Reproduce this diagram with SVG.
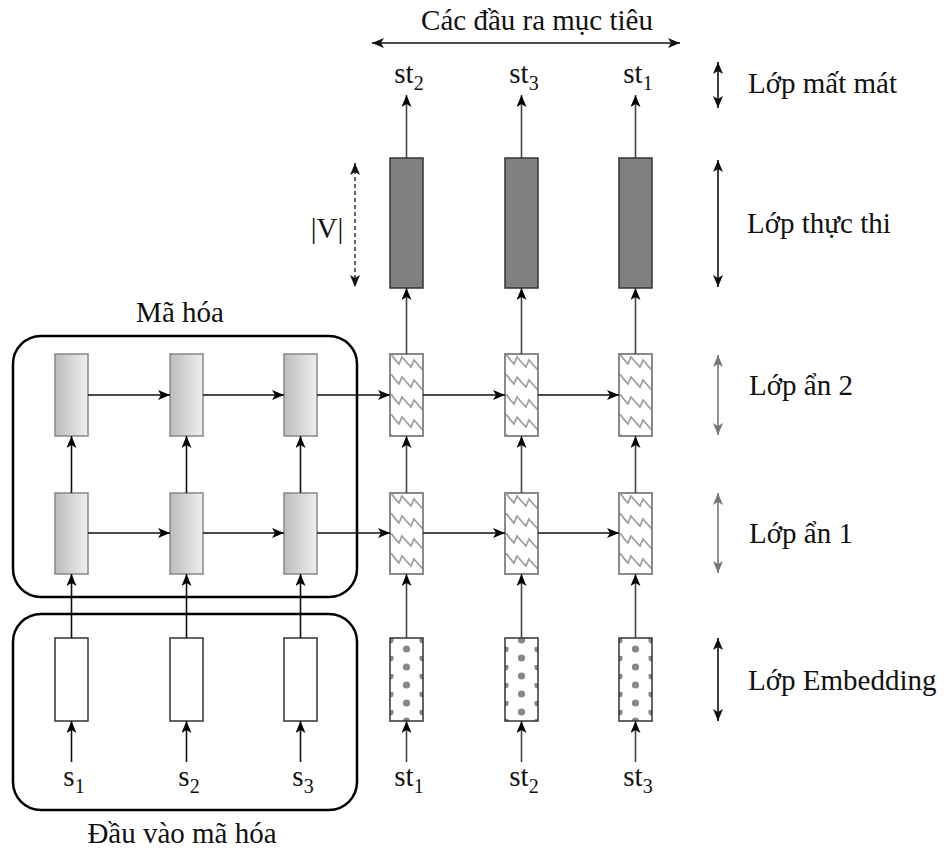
<svg xmlns="http://www.w3.org/2000/svg" width="948" height="852" viewBox="0 0 948 852">
<style>
.t{font-size:29px;fill:#111}
.sub{font-size:20px}
.grp{fill:none;stroke:#000;stroke-width:2.5}
.enc{fill:url(#grad);stroke:#888;stroke-width:1.5}
.emb{fill:#fff;stroke:#333;stroke-width:1.5}
.dark{fill:#808080;stroke:#333;stroke-width:1.5}
.zz{fill:url(#zig);stroke:#8a8a8a;stroke-width:2}
.dot{fill:url(#dots);stroke:#333;stroke-width:1.5}
.c{fill:none;stroke:#111;stroke-width:1.6;marker-end:url(#ah)}
.cg{fill:none;stroke:#444;stroke-width:1.6;marker-end:url(#ah)}
.d{fill:none;stroke:#111;stroke-width:1.6;marker-start:url(#sa);marker-end:url(#sa)}
.dg{fill:none;stroke:#777;stroke-width:1.6;marker-start:url(#sg);marker-end:url(#sg)}
</style>
<defs>
<linearGradient id="grad" x1="0" y1="0" x2="1" y2="0">
<stop offset="0" stop-color="#bcbcbc"/>
<stop offset="1" stop-color="#efefef"/>
</linearGradient>
<pattern id="zig" patternUnits="userSpaceOnUse" width="33" height="20">
<path d="M1,0 Q5,6 9,10 L12,3 Q17,9 21,13 L24,6 Q29,12 33,16" fill="none" stroke="#a0a0a0" stroke-width="1.8"/>
</pattern>
<pattern id="dots" patternUnits="userSpaceOnUse" width="33" height="18">
<rect width="33" height="18" fill="#fff"/>
<circle cx="16.5" cy="11" r="3.6" fill="#888"/>
<circle cx="0" cy="2" r="3.6" fill="#888"/>
<circle cx="33" cy="2" r="3.6" fill="#888"/>
</pattern>
<marker id="ah" markerUnits="userSpaceOnUse" viewBox="0 0 12 10" refX="12" refY="5" markerWidth="12" markerHeight="10" orient="auto">
<path d="M0,0 L12,5 L0,10 L3,5 z" fill="#000"/>
</marker>
<marker id="sa" markerUnits="userSpaceOnUse" viewBox="0 0 12 10" refX="12" refY="5" markerWidth="12" markerHeight="10" orient="auto-start-reverse">
<path d="M0,0 L12,5 L0,10 L3,5 z" fill="#111"/>
</marker>
<marker id="sg" markerUnits="userSpaceOnUse" viewBox="0 0 12 10" refX="12" refY="5" markerWidth="12" markerHeight="10" orient="auto-start-reverse">
<path d="M0,0 L12,5 L0,10 L3,5 z" fill="#777"/>
</marker>
</defs>
<rect width="948" height="852" fill="#fff"/>

<g font-family="'Liberation Serif', 'Times New Roman', 'DejaVu Serif', serif">
<g id="encoder-group">
<rect class="grp" x="13" y="336" width="344" height="261" rx="28"/>
<text class="t" x="180" y="322" text-anchor="middle">Mã hóa</text>
</g>
<g id="encoder-input-group">
<rect class="grp" x="13" y="614" width="344" height="196" rx="28"/>
<text class="t" x="182" y="843" text-anchor="middle">Đầu vào mã hóa</text>
</g>

<g id="enc-h2-1"><rect class="enc" x="55" y="354" width="33" height="82"/></g>
<g id="enc-h2-2"><rect class="enc" x="170" y="354" width="33" height="82"/></g>
<g id="enc-h2-3"><rect class="enc" x="284" y="354" width="33" height="82"/></g>
<g id="enc-h1-1"><rect class="enc" x="55" y="493" width="33" height="81"/></g>
<g id="enc-h1-2"><rect class="enc" x="170" y="493" width="33" height="81"/></g>
<g id="enc-h1-3"><rect class="enc" x="284" y="493" width="33" height="81"/></g>
<g id="enc-emb-1"><rect class="emb" x="55" y="638" width="33" height="83"/></g>
<g id="enc-emb-2"><rect class="emb" x="170" y="638" width="33" height="83"/></g>
<g id="enc-emb-3"><rect class="emb" x="284" y="638" width="33" height="83"/></g>

<g id="dec-out-1"><rect class="dark" x="390" y="158" width="33" height="130"/></g>
<g id="dec-out-2"><rect class="dark" x="505" y="158" width="33" height="130"/></g>
<g id="dec-out-3"><rect class="dark" x="619" y="158" width="33" height="130"/></g>
<g id="dec-h2-1" transform="translate(390,354)"><rect class="zz" width="33" height="82"/></g>
<g id="dec-h2-2" transform="translate(505,354)"><rect class="zz" width="33" height="82"/></g>
<g id="dec-h2-3" transform="translate(619,354)"><rect class="zz" width="33" height="82"/></g>
<g id="dec-h1-1" transform="translate(390,493)"><rect class="zz" width="33" height="81"/></g>
<g id="dec-h1-2" transform="translate(505,493)"><rect class="zz" width="33" height="81"/></g>
<g id="dec-h1-3" transform="translate(619,493)"><rect class="zz" width="33" height="81"/></g>
<g id="dec-emb-1" transform="translate(390,638)"><rect class="dot" width="33" height="83"/></g>
<g id="dec-emb-2" transform="translate(505,629)"><rect class="dot" y="9" width="33" height="83"/></g>
<g id="dec-emb-3" transform="translate(619,638)"><rect class="dot" width="33" height="83"/></g>

<g id="labels">
<text class="t" x="537" y="30" text-anchor="middle">Các đầu ra mục tiêu</text>
<text class="t" x="409" y="83" text-anchor="middle">st<tspan class="sub" dy="7">2</tspan></text>
<text class="t" x="524" y="83" text-anchor="middle">st<tspan class="sub" dy="7">3</tspan></text>
<text class="t" x="638" y="83" text-anchor="middle">st<tspan class="sub" dy="7">1</tspan></text>
<text class="t" x="327" y="238" text-anchor="middle">|V|</text>
<text class="t" x="74" y="786" text-anchor="middle">s<tspan class="sub" dy="7">1</tspan></text>
<text class="t" x="189" y="786" text-anchor="middle">s<tspan class="sub" dy="7">2</tspan></text>
<text class="t" x="303" y="786" text-anchor="middle">s<tspan class="sub" dy="7">3</tspan></text>
<text class="t" x="409" y="786" text-anchor="middle">st<tspan class="sub" dy="7">1</tspan></text>
<text class="t" x="524" y="786" text-anchor="middle">st<tspan class="sub" dy="7">2</tspan></text>
<text class="t" x="638" y="786" text-anchor="middle">st<tspan class="sub" dy="7">3</tspan></text>
<text class="t" x="748" y="93">Lớp mất mát</text>
<text class="t" x="747" y="233">Lớp thực thi</text>
<text class="t" x="749" y="395">Lớp ẩn 2</text>
<text class="t" x="749" y="543">Lớp ẩn 1</text>
<text class="t" x="748" y="690">Lớp Embedding</text>
</g>
</g>

<g id="connectors">
<path class="d" d="M372,43 H680"/>
<path class="d" d="M718,62 V108"/>
<path class="d" d="M718,160 V287"/>
<path class="dg" d="M718,355 V435"/>
<path class="dg" d="M718,493 V573"/>
<path class="d" d="M718,638 V721"/>
<path fill="none" stroke="#666" stroke-width="2" stroke-dasharray="4,3" marker-start="url(#sa)" marker-end="url(#sa)" d="M355,163 V287"/>

<path class="cg" d="M406.5,158 V95"/>
<path class="cg" d="M521.5,158 V95"/>
<path class="cg" d="M635.5,158 V95"/>
<path class="cg" d="M406.5,354 V288"/>
<path class="cg" d="M521.5,354 V288"/>
<path class="cg" d="M635.5,354 V288"/>

<path class="c" d="M71.5,493 V436"/>
<path class="c" d="M186.5,493 V436"/>
<path class="c" d="M300.5,493 V436"/>
<path class="cg" d="M406.5,493 V436"/>
<path class="cg" d="M521.5,493 V436"/>
<path class="cg" d="M635.5,493 V436"/>

<path class="c" d="M71.5,638 V574"/>
<path class="c" d="M186.5,638 V574"/>
<path class="c" d="M300.5,638 V574"/>
<path class="cg" d="M406.5,638 V574"/>
<path class="cg" d="M521.5,638 V574"/>
<path class="cg" d="M635.5,638 V574"/>

<path class="c" d="M71.5,762 V721"/>
<path class="c" d="M186.5,762 V721"/>
<path class="c" d="M300.5,762 V721"/>
<path class="cg" d="M406.5,762 V721"/>
<path class="cg" d="M521.5,762 V721"/>
<path class="cg" d="M635.5,762 V721"/>

<path class="c" d="M88,395 H170"/>
<path class="c" d="M203,395 H284"/>
<path class="c" d="M317,395 H390"/>
<path class="c" d="M423,395 H505"/>
<path class="c" d="M538,395 H619"/>
<path class="c" d="M88,533 H170"/>
<path class="c" d="M203,533 H284"/>
<path class="c" d="M317,533 H390"/>
<path class="c" d="M423,533 H505"/>
<path class="c" d="M538,533 H619"/>
</g>
</svg>
